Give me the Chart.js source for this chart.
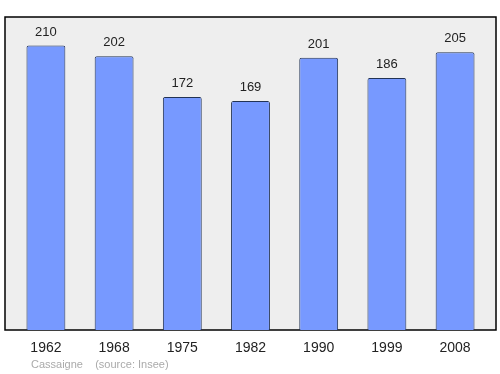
<!DOCTYPE html>
<html>
<head>
<meta charset="utf-8">
<script src="https://cdn.jsdelivr.net/npm/chart.js@4/dist/chart.umd.min.js"></script>
<style>
    html, body { margin: 0; padding: 0; background: #fff; }
    #wrap { position: relative; width: 500px; height: 374px; }
    #footer {
        position: absolute; left: 31px; top: 358px;
        font-family: "Liberation Sans", Arial, sans-serif;
        font-size: 11px; color: #aaaaaa; white-space: pre;
    }
</style>
</head>
<body>
<div id="wrap">
    <canvas id="chart" width="500" height="374"></canvas>
    <div id="footer">Cassaigne    (source: Insee)</div>
</div>
<script>
// Données
const years = ['1962', '1968', '1975', '1982', '1990', '1999', '2008'];
const population = [210, 202, 172, 169, 201, 186, 205];

// Fond gris + cadre noir de la zone du graphique
const frame = {
    id: 'frame',
    beforeDatasetsDraw(chart) {
        const { ctx, chartArea: a } = chart;
        ctx.save();
        ctx.fillStyle = '#eeeeee';
        ctx.fillRect(a.left, a.top, a.right - a.left, a.bottom - a.top);
        ctx.strokeStyle = '#000';
        ctx.lineWidth = 1.5;
        ctx.strokeRect(a.left, a.top, a.right - a.left, a.bottom - a.top);
        ctx.restore();
    }
};

// Valeurs au-dessus des barres
const valueLabels = {
    id: 'valueLabels',
    afterDatasetsDraw(chart) {
        const { ctx } = chart;
        const meta = chart.getDatasetMeta(0);
        ctx.save();
        ctx.font = '13px "Liberation Sans", Arial, sans-serif';
        ctx.fillStyle = '#222';
        ctx.textAlign = 'center';
        ctx.textBaseline = 'bottom';
        meta.data.forEach((bar, i) => {
            ctx.fillText(String(population[i]), bar.x, bar.y - 7);
        });
        ctx.restore();
    }
};

new Chart(document.getElementById('chart'), {
    type: 'bar',
    data: {
        datasets: [{
            data: population.map((v, i) => ({ x: i, y: v })),
            backgroundColor: '#7799ff',
            borderColor: '#223355',
            borderWidth: 1,
            borderRadius: 2,
            borderSkipped: 'bottom',
            barPercentage: 0.57,
            categoryPercentage: 1
        }]
    },
    options: {
        responsive: false,
        animation: false,
        layout: { padding: { left: 5, right: 4, top: 17, bottom: 0 } },
        plugins: {
            legend: { display: false },
            tooltip: { enabled: false }
        },
        scales: {
            x: {
                type: 'linear',
                offset: false,
                min: -0.6,
                max: 6.6,
                grid: { display: false, drawTicks: false },
                border: { display: false },
                afterFit: (s) => { s.height = 44; },
                ticks: {
                    stepSize: 1,
                    includeBounds: false,
                    autoSkip: false,
                    maxRotation: 0,
                    padding: 10,
                    color: '#222',
                    font: { family: '"Liberation Sans", Arial, sans-serif', size: 14 },
                    callback: (v) => years[v] ?? ''
                }
            },
            y: {
                display: false,
                min: 0,
                max: 231
            }
        }
    },
    plugins: [frame, valueLabels]
});
</script>
</body>
</html>
